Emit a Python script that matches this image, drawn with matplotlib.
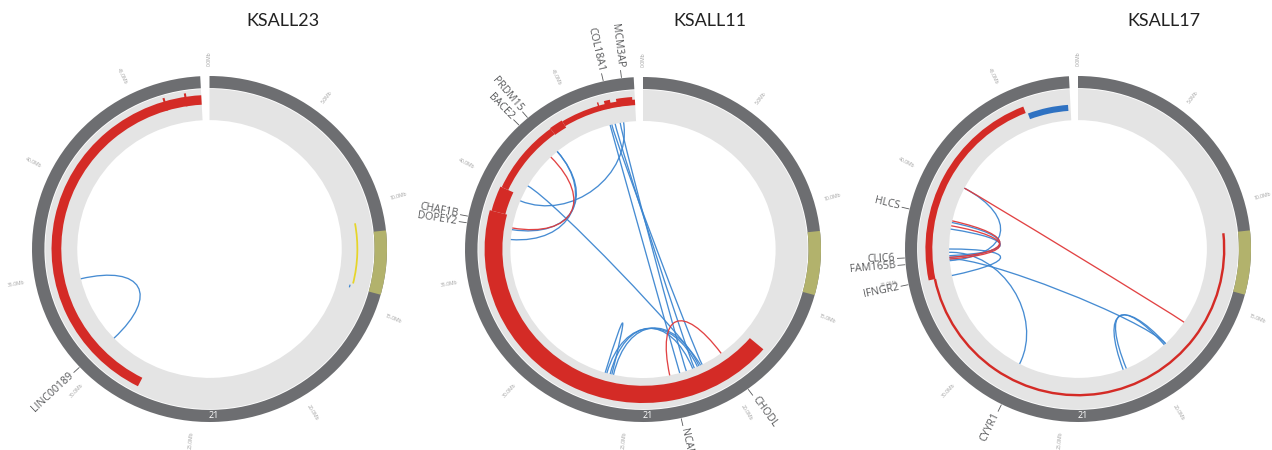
import numpy as np
import matplotlib
matplotlib.use("Agg")
import matplotlib.pyplot as plt
from matplotlib.patches import Wedge, PathPatch
from matplotlib.path import Path

# ---------------- chromosome 21 layout ----------------
CHR_LEN = 48.13          # Mb
ARC_SPAN = 357.0         # degrees used by the ideogram (small gap at the top)
CENTROMERE = (11.3, 14.2)
TICKS_MB = [0, 5, 10, 15, 20, 25, 30, 35, 40, 45]
CHR_NAME = "21"

SAMPLES = ["KSALL23", "KSALL11", "KSALL17"]

# ---------------- KSALL23 ----------------
s23_gain = [(27.9, 48.13, 0.835, 0.89), (46.25, 46.35, 0.835, 0.91), (47.3, 47.4, 0.835, 0.91)]
s23_loss = []
s23_thin_gain = []
s23_yellow = [(10.75, 14.0)]
s23_blue_links = [(34.6, 30.5)]
s23_red_links = []
s23_genes = [("LINC00189", 30.6)]

# ---------------- KSALL11 ----------------
s11_gain = [(17.6, 38.4, 0.79, 0.89), (38.4, 39.7, 0.80, 0.88), (39.7, 43.6, 0.832, 0.872),
            (43.6, 44.3, 0.828, 0.876), (44.3, 48.13, 0.838, 0.87),
            (46.25, 46.32, 0.84, 0.89), (46.6, 46.9, 0.84, 0.888), (47.2, 48.0, 0.84, 0.886)]
s11_loss = []
s11_thin_gain = []
s11_yellow = []
s11_blue_links = [(46.6, 22.1), (46.7, 20.7), (46.9, 21.2), (47.2, 21.7), (47.4, 39.4),
                  (43.1, 37.6), (43.1, 37.0), (40.4, 20.8), (26.4, 21.0), (26.2, 21.3),
                  (26.0, 20.9), (26.5, 26.1)]
s11_red_links = [(42.6, 37.7), (22.7, 19.4)]
s11_genes = [("COL18A1", 46.8), ("MCM3AP", 47.6), ("PRDM15", 43.1), ("BACE2", 42.6),
             ("CHAF1B", 37.9), ("DOPEY2", 37.6), ("CHODL", 19.4), ("NCAM2", 22.6)]

# ---------------- KSALL17 ----------------
s17_gain = [(34.8, 45.7, 0.842, 0.882)]
s17_thin_gain = [(11.3, 34.8, 0.838, 0.852)]
s17_loss = [(45.8, 48.0, 0.80, 0.835)]
s17_yellow = []
s17_blue_links = [(40.2, 35.7), (38.0, 35.9), (37.6, 36.0), (35.8, 18.5), (36.2, 27.9),
                  (34.8, 36.4), (21.5, 18.5), (21.3, 18.6)]
s17_red_links = [(40.2, 16.8), (38.1, 35.9), (37.8, 35.8)]
s17_genes = [("HLCS", 38.2), ("CLIC6", 36.0), ("FAM165B", 35.7), ("IFNGR2", 34.8), ("CYYR1", 27.8)]

panels = [
    dict(gain=s23_gain, thin=s23_thin_gain, loss=s23_loss, yellow=s23_yellow,
         blue=s23_blue_links, red=s23_red_links, genes=s23_genes),
    dict(gain=s11_gain, thin=s11_thin_gain, loss=s11_loss, yellow=s11_yellow,
         blue=s11_blue_links, red=s11_red_links, genes=s11_genes),
    dict(gain=s17_gain, thin=s17_thin_gain, loss=s17_loss, yellow=s17_yellow,
         blue=s17_blue_links, red=s17_red_links, genes=s17_genes),
]

# circle placement in pixels: centre x, centre y, x radius, y radius
placement = [(209.5, 249.0, 177.5, 173.0), (643.0, 249.5, 178.0, 172.5), (1078.0, 249.0, 173.0, 173.0)]
title_x = [283, 710, 1164]

DARK = "#6d6e71"
TRACK = "#e4e4e4"
OLIVE = "#b2b26c"
RED = "#d42b26"
BLUE = "#2f72c2"
LINK_BLUE = "#3d86d0"
LINK_RED = "#e0393a"
YELLOW = "#e6d52a"
LABEL = "#58595b"
TICKC = "#a0a0a0"

W, H = 1272, 450
fig = plt.figure(figsize=(W / 100, H / 100), dpi=100)
fig.patch.set_facecolor("white")


def ang(mb):
    return np.asarray(mb, dtype=float) * ARC_SPAN / CHR_LEN


def xy(mb, r):
    t = np.deg2rad(ang(mb))
    return r * np.sin(t), r * np.cos(t)


def band(ax, a, b, r_in, r_out, color, z=2):
    ax.add_patch(Wedge((0, 0), r_out, 90 - float(ang(b)), 90 - float(ang(a)),
                       width=r_out - r_in, facecolor=color, edgecolor="none", zorder=z))


def link(ax, a, b, color, r=0.745):
    x0, y0 = xy(a, r)
    x1, y1 = xy(b, r)
    d = abs(float(ang(a) - ang(b)))
    d = min(d, 360 - d)
    k = 0.45 + 0.4 * d / 180.0
    verts = [(x0, y0), (k * x0, k * y0), (k * x1, k * y1), (x1, y1)]
    codes = [Path.MOVETO, Path.CURVE4, Path.CURVE4, Path.CURVE4]
    ax.add_patch(PathPatch(Path(verts, codes), facecolor="none", edgecolor=color,
                           lw=0.95, alpha=0.95, zorder=4))


def radial_text(ax, mb, r, text, size, color, family):
    theta = float(ang(mb))
    phi = 90 - theta
    x, y = xy(mb, r)
    if theta <= 180:
        rot, ha = phi, "left"
    else:
        rot, ha = phi + 180, "right"
    ax.text(x, y, text, rotation=rot, rotation_mode="anchor", ha=ha, va="center",
            fontsize=size, color=color, family=family, clip_on=False)


L = 1.45
for i, (p, (cx, cy, rx, ry)) in enumerate(zip(panels, placement)):
    left = (cx - L * rx) / W
    bottom = (H - (cy + L * ry)) / H
    ax = fig.add_axes([left, bottom, 2 * L * rx / W, 2 * L * ry / H])
    ax.set_xlim(-L, L)
    ax.set_ylim(-L, L)
    ax.set_aspect("auto")
    ax.axis("off")

    # ideogram ring and centromere
    band(ax, 0, CHR_LEN, 0.93, 1.0, DARK)
    band(ax, CENTROMERE[0], CENTROMERE[1], 0.93, 1.0, OLIVE, z=3)
    # data track background
    band(ax, 0, CHR_LEN, 0.745, 0.925, TRACK, z=1)

    for a, b, r0, r1 in p["gain"]:
        band(ax, a, b, r0, r1, RED, z=3)
    for a, b, r0, r1 in p["thin"]:
        band(ax, a, b, r0, r1, RED, z=3)
    for a, b, r0, r1 in p["loss"]:
        band(ax, a, b, r0, r1, BLUE, z=3)
    for a, b in p["yellow"]:
        band(ax, a, b, 0.828, 0.838, YELLOW, z=3)
        band(ax, b + 0.1, b + 0.25, 0.815, 0.822, LINK_BLUE, z=3)

    for a, b in p["blue"]:
        link(ax, a, b, LINK_BLUE)
    for a, b in p["red"]:
        link(ax, a, b, LINK_RED)

    # chromosome name
    tx, ty = xy(CHR_LEN / 2, 0.965)
    ax.text(tx, ty, CHR_NAME, ha="center", va="center", color="white",
            fontsize=6.5, family="Open Sans", zorder=5)

    # Mb tick labels
    for t in TICKS_MB:
        radial_text(ax, t, 1.06, f"{t:.1f}Mb", 3.6, TICKC, "Open Sans")

    # gene labels with leader lines
    for name, mb in p["genes"]:
        x0, y0 = xy(mb, 1.005)
        x1, y1 = xy(mb, 1.045)
        ax.plot([x0, x1], [y0, y1], color=LABEL, lw=0.6, clip_on=False)
        radial_text(ax, mb, 1.06, name, 7.6, LABEL, "Open Sans")

    fig.text(title_x[i] / W, 1 - 21 / H, SAMPLES[i], ha="center", va="center",
             fontsize=13, family="Lato", color="#222222")

fig.savefig("out.png", dpi=100, facecolor="white")
